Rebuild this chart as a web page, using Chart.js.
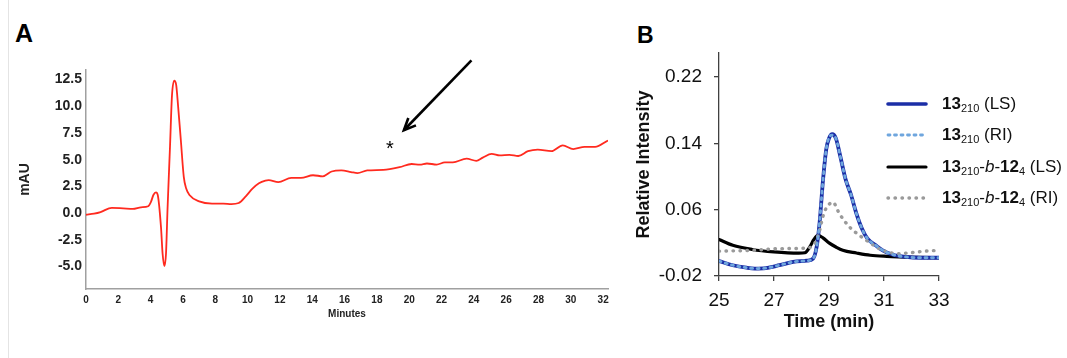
<!DOCTYPE html>
<html>
<head>
<meta charset="utf-8">
<title>UV and GPC traces</title>
<script src="https://cdn.jsdelivr.net/npm/chart.js@4.4.1/dist/chart.umd.min.js"></script>
<style>
  html, body { margin: 0; padding: 0; background: #fff; }
  body { width: 1067px; height: 358px; position: relative; overflow: hidden; font-family: "Liberation Sans", Arial, sans-serif; }
  .panel-label { position: absolute; font-weight: bold; line-height: 1; color: #000; }
  #divider { position: absolute; left: 8px; top: 0; width: 1px; height: 358px; background: #e4e4e4; }
  #wrapA { position: absolute; left: 0; top: 0; width: 630px; height: 330px; }
  #wrapB { position: absolute; left: 620px; top: 0; width: 447px; height: 340px; }
  #legendB { position: absolute; left: 886px; top: 88px; }
  .leg-row { display: flex; align-items: center; height: 31.5px; font-size: 17px; color: #111; white-space: nowrap; }
  .leg-row svg { margin-right: 14px; flex: none; }
  .leg-row sub { font-size: 11px; vertical-align: -3px; font-weight: normal; }
</style>
</head>
<body>
<div id="divider"></div>
<div class="panel-label" style="left:15px; top:21px; font-size:25px;">A</div>
<div class="panel-label" style="left:637px; top:24px; font-size:23px;">B</div>
<div id="wrapA"><canvas id="uvChart"></canvas></div>
<div id="wrapB"><canvas id="gpcChart"></canvas></div>
<div id="legendB"></div>

<script>
// --- Panel A: UV trace ---
const uvMinutes = [0, 0.5, 0.9, 1.6, 2.3, 2.9, 3.4, 3.85, 4.03, 4.17, 4.33, 4.44, 4.64, 4.74, 4.85, 4.95, 5.05,
    5.2, 5.32, 5.46, 5.58, 5.7, 5.87, 6.05, 6.2, 6.4, 7.0, 7.8, 8.5, 9.0, 9.45, 9.9, 10.3, 10.7, 11.1, 11.3,
    11.9, 12.7, 13.3, 14.05, 14.65, 15.2, 15.8, 16.4, 16.8, 17.4, 18.4, 19.4, 20.15, 20.65, 21.1, 21.7, 22.2,
    22.7, 23.55, 24.15, 24.55, 25.1, 25.6, 26.2, 26.75, 27.35, 27.95, 28.8, 29.5, 30.15, 30.85, 31.5, 32.3];
const uvSignal = [-0.15, -0.05, 0.1, 0.5, 0.45, 0.4, 0.55, 0.65, 1.1, 1.7, 1.95, 1.7, -1.3, -3.8, -4.95, -3.8, 0.6,
    6.3, 11.0, 12.4, 12.0, 10.0, 6.8, 3.4, 2.3, 1.7, 1.1, 0.9, 0.9, 0.85, 0.95, 1.6, 2.3, 2.8, 3.05, 3.1,
    2.9, 3.3, 3.3, 3.55, 3.45, 3.9, 4.0, 3.85, 3.75, 4.0, 4.05, 4.3, 4.6, 4.55, 4.65, 4.55, 4.75,
    4.75, 5.1, 4.9, 5.2, 5.55, 5.4, 5.45, 5.35, 5.8, 5.95, 5.8, 6.35, 6.0, 6.2, 6.2, 6.8];
const uvXTicks = [0, 2, 4, 6, 8, 10, 12, 14, 16, 18, 20, 22, 24, 26, 28, 30, 32];
const uvYTicks = [-5, -2.5, 0, 2.5, 5, 7.5, 10, 12.5];

// arrow and asterisk marking the product region, in (minutes, mAU)
const arrowTail = [23.85, 14.3];
const arrowHead = [19.67, 7.76];
const starAt = [18.8, 6.45];

// --- Panel B: GPC traces ---
const lsTime13 = [25, 25.5, 26.0, 26.3, 26.7, 27.2, 27.7, 28.2, 28.42, 28.55, 28.66, 28.78, 28.9, 29.0, 29.12,
    29.25, 29.4, 29.6, 29.8, 30.0, 30.2, 30.4, 30.7, 30.95, 31.3, 31.8, 32.3, 33];
const ls13 = [-0.002, -0.007, -0.010, -0.011, -0.0105, -0.007, -0.003, -0.0015, 0.001, 0.015, 0.045, 0.095, 0.133, 0.146, 0.151,
    0.146, 0.126, 0.097, 0.078, 0.055, 0.037, 0.025, 0.017, 0.011, 0.006, 0.003, 0.002, 0.002];
const riTime13 = [25, 25.5, 26.0, 26.3, 26.7, 27.2, 27.7, 28.2, 28.42, 28.55, 28.66, 28.78, 28.9, 29.0, 29.12,
    29.25, 29.4, 29.6, 29.8, 30.0, 30.2, 30.4, 30.7, 30.95, 31.3, 31.8, 32.3, 33];
const ri13 = [-0.002, -0.007, -0.010, -0.011, -0.0105, -0.007, -0.003, -0.0015, 0.001, 0.015, 0.046, 0.095, 0.133, 0.147, 0.150,
    0.146, 0.126, 0.097, 0.078, 0.055, 0.037, 0.025, 0.017, 0.011, 0.006, 0.003, 0.002, 0.002];
const lsTimeBlock = [25, 25.5, 26.2, 27.0, 27.9, 28.12, 28.3, 28.45, 28.6, 28.78, 29.0, 29.25, 29.5, 30.0, 30.5, 31.1, 32.2, 33];
const lsBlock = [0.024, 0.017, 0.012, 0.009, 0.0075, 0.008, 0.015, 0.024, 0.029, 0.026, 0.020, 0.015, 0.011, 0.0077, 0.005, 0.0037, 0.0025, 0.002];
const riTimeBlock = [25, 26.2, 27.2, 28.1, 28.4, 28.55, 28.66, 28.78, 28.9, 29.02, 29.14, 29.38, 29.75, 30.15, 30.45, 30.95, 31.5, 32.0, 32.5, 33];
const riBlock = [0.010, 0.011, 0.013, 0.0135, 0.016, 0.024, 0.035, 0.052, 0.062, 0.067, 0.069, 0.055, 0.039, 0.028, 0.021, 0.011, 0.007, 0.0082, 0.010, 0.011];
const gpcXTicks = [25, 27, 29, 31, 33];
const gpcYTicks = [-0.02, 0.06, 0.14, 0.22];

const legendLabels = [
    '<b>13</b><sub>210</sub>&nbsp;(LS)',
    '<b>13</b><sub>210</sub>&nbsp;(RI)',
    '<b>13</b><sub>210</sub>-<i>b</i>-<b>12</b><sub>4</sub>&nbsp;(LS)',
    '<b>13</b><sub>210</sub>-<i>b</i>-<b>12</b><sub>4</sub>&nbsp;(RI)'
];

const FONT = '"Liberation Sans", Arial, sans-serif';
const toPoints = (xs, ys) => xs.map((x, i) => ({ x, y: ys[i] }));
const fixedTicks = (values) => (scale) => { scale.ticks = values.map(v => ({ value: v })); };

Chart.defaults.font.family = FONT;
Chart.defaults.animation = false;

document.addEventListener('DOMContentLoaded', () => {
    initUvChart();
    initGpcChart();
});

// arrow + asterisk drawn in data space on top of the UV trace
const peakArrow = {
    id: 'peakArrow',
    afterDatasetsDraw(chart) {
        const { ctx, scales: { x, y } } = chart;
        const x0 = x.getPixelForValue(arrowTail[0]), y0 = y.getPixelForValue(arrowTail[1]);
        const x1 = x.getPixelForValue(arrowHead[0]), y1 = y.getPixelForValue(arrowHead[1]);
        const ang = Math.atan2(y1 - y0, x1 - x0);
        const head = 13, spread = 0.42;

        ctx.save();
        ctx.strokeStyle = '#000';
        ctx.lineWidth = 2.6;
        ctx.beginPath();
        ctx.moveTo(x0, y0);
        ctx.lineTo(x1, y1);
        ctx.stroke();
        ctx.beginPath();
        ctx.moveTo(x1 - head * Math.cos(ang - spread), y1 - head * Math.sin(ang - spread));
        ctx.lineTo(x1, y1);
        ctx.lineTo(x1 - head * Math.cos(ang + spread), y1 - head * Math.sin(ang + spread));
        ctx.stroke();

        ctx.fillStyle = '#000';
        ctx.font = '20px ' + FONT;
        ctx.textAlign = 'center';
        ctx.textBaseline = 'alphabetic';
        ctx.fillText('*', x.getPixelForValue(starAt[0]), y.getPixelForValue(starAt[1]) + 11);
        ctx.restore();
    }
};

function initUvChart() {
    new Chart(document.getElementById('uvChart'), {
        type: 'line',
        data: {
            datasets: [{
                data: toPoints(uvMinutes, uvSignal),
                borderColor: '#ff2a1f',
                borderWidth: 1.8,
                pointRadius: 0,
                cubicInterpolationMode: 'monotone'
            }]
        },
        options: {
            responsive: true,
            maintainAspectRatio: false,
            layout: { padding: { top: 70, right: 22, left: 0, bottom: 0 } },
            plugins: { legend: { display: false }, tooltip: { enabled: false } },
            scales: {
                x: {
                    type: 'linear',
                    min: 0,
                    max: 32.3,
                    afterBuildTicks: fixedTicks(uvXTicks),
                    afterFit: s => { s.height = 41; },
                    grid: { display: false, drawTicks: false },
                    border: { color: '#a0a0a0', width: 1.5 },
                    ticks: { color: '#222', padding: 5, autoSkip: false, maxRotation: 0, font: { size: 10, weight: 'bold' } },
                    title: { display: true, text: 'Minutes', color: '#222', font: { size: 10, weight: 'bold' }, padding: { top: 0, bottom: 10 } }
                },
                y: {
                    min: -7.1,
                    max: 13.4,
                    afterBuildTicks: fixedTicks(uvYTicks),
                    afterFit: s => { s.width = 86; },
                    grid: { display: false, drawTicks: false },
                    border: { color: '#a0a0a0', width: 1.5 },
                    ticks: { color: '#222', padding: 4, callback: v => v.toFixed(1), font: { size: 14, weight: 'bold' } },
                    title: { display: true, text: 'mAU', color: '#222', font: { size: 14, weight: 'bold' }, padding: { top: 17, bottom: 0 } }
                }
            }
        },
        plugins: [peakArrow]
    });
}

function initGpcChart() {
    const series = [
        { data: toPoints(lsTime13, ls13), borderColor: '#1b2ea6', borderWidth: 3.8, borderCapStyle: 'round' },
        { data: toPoints(riTime13, ri13), borderColor: '#6fa6de', borderWidth: 2.8, borderDash: [2, 4.5], borderCapStyle: 'round' },
        { data: toPoints(lsTimeBlock, lsBlock), borderColor: '#000', borderWidth: 3.2, borderCapStyle: 'round' },
        { data: toPoints(riTimeBlock, riBlock), borderColor: '#9a9a9a', borderWidth: 3.4, borderDash: [0.5, 6.5], borderCapStyle: 'round' }
    ];
    // draw order: black trace under the two 13 traces, dotted RI on top of its LS line
    const order = [2, 0, 3, 1];
    series.forEach(d => { d.pointRadius = 0; d.cubicInterpolationMode = 'monotone'; });
    series.forEach((d, i) => { d.order = order.indexOf(i) * -1; });

    new Chart(document.getElementById('gpcChart'), {
        type: 'line',
        data: { datasets: series },
        options: {
            responsive: true,
            maintainAspectRatio: false,
            layout: { padding: { top: 53, right: 128, left: 0, bottom: 0 } },
            plugins: { legend: { display: false }, tooltip: { enabled: false } },
            scales: {
                x: {
                    type: 'linear',
                    min: 25,
                    max: 33,
                    afterBuildTicks: fixedTicks(gpcXTicks),
                    afterFit: s => { s.height = 64; },
                    grid: { drawOnChartArea: false, drawTicks: true, tickLength: 5, color: '#404040', lineWidth: 1.3 },
                    border: { color: '#404040', width: 1.3 },
                    ticks: { color: '#111', padding: 8, maxRotation: 0, font: { size: 19 } },
                    title: { display: true, text: 'Time (min)', color: '#111', font: { size: 18, weight: 'bold' }, padding: { top: 0, bottom: 7 } }
                },
                y: {
                    min: -0.02,
                    max: 0.249,
                    afterBuildTicks: fixedTicks(gpcYTicks),
                    afterFit: s => { s.width = 99; },
                    grid: { drawOnChartArea: false, drawTicks: true, tickLength: 5, color: '#404040', lineWidth: 1.3 },
                    border: { color: '#404040', width: 1.3 },
                    ticks: { color: '#111', padding: 12, callback: v => v.toFixed(2), font: { size: 19 } },
                    title: { display: true, text: 'Relative Intensity', color: '#111', font: { size: 18, weight: 'bold' }, padding: { top: 13, bottom: 0 } }
                }
            }
        }
    });

    // legend built from the dataset styles, labels carry sub/italic markup
    const legend = document.getElementById('legendB');
    series.forEach((d, i) => {
        const dash = d.borderDash ? ` stroke-dasharray="${d.borderDash.join(' ')}"` : '';
        const w = Math.min(d.borderWidth, 3.6);
        const row = document.createElement('div');
        row.className = 'leg-row';
        row.innerHTML = `<svg width="42" height="8"><line x1="2" y1="4" x2="40" y2="4" stroke="${d.borderColor}"` +
            ` stroke-width="${w}" stroke-linecap="round"${dash}/></svg><span>${legendLabels[i]}</span>`;
        legend.appendChild(row);
    });
}
</script>
</body>
</html>
